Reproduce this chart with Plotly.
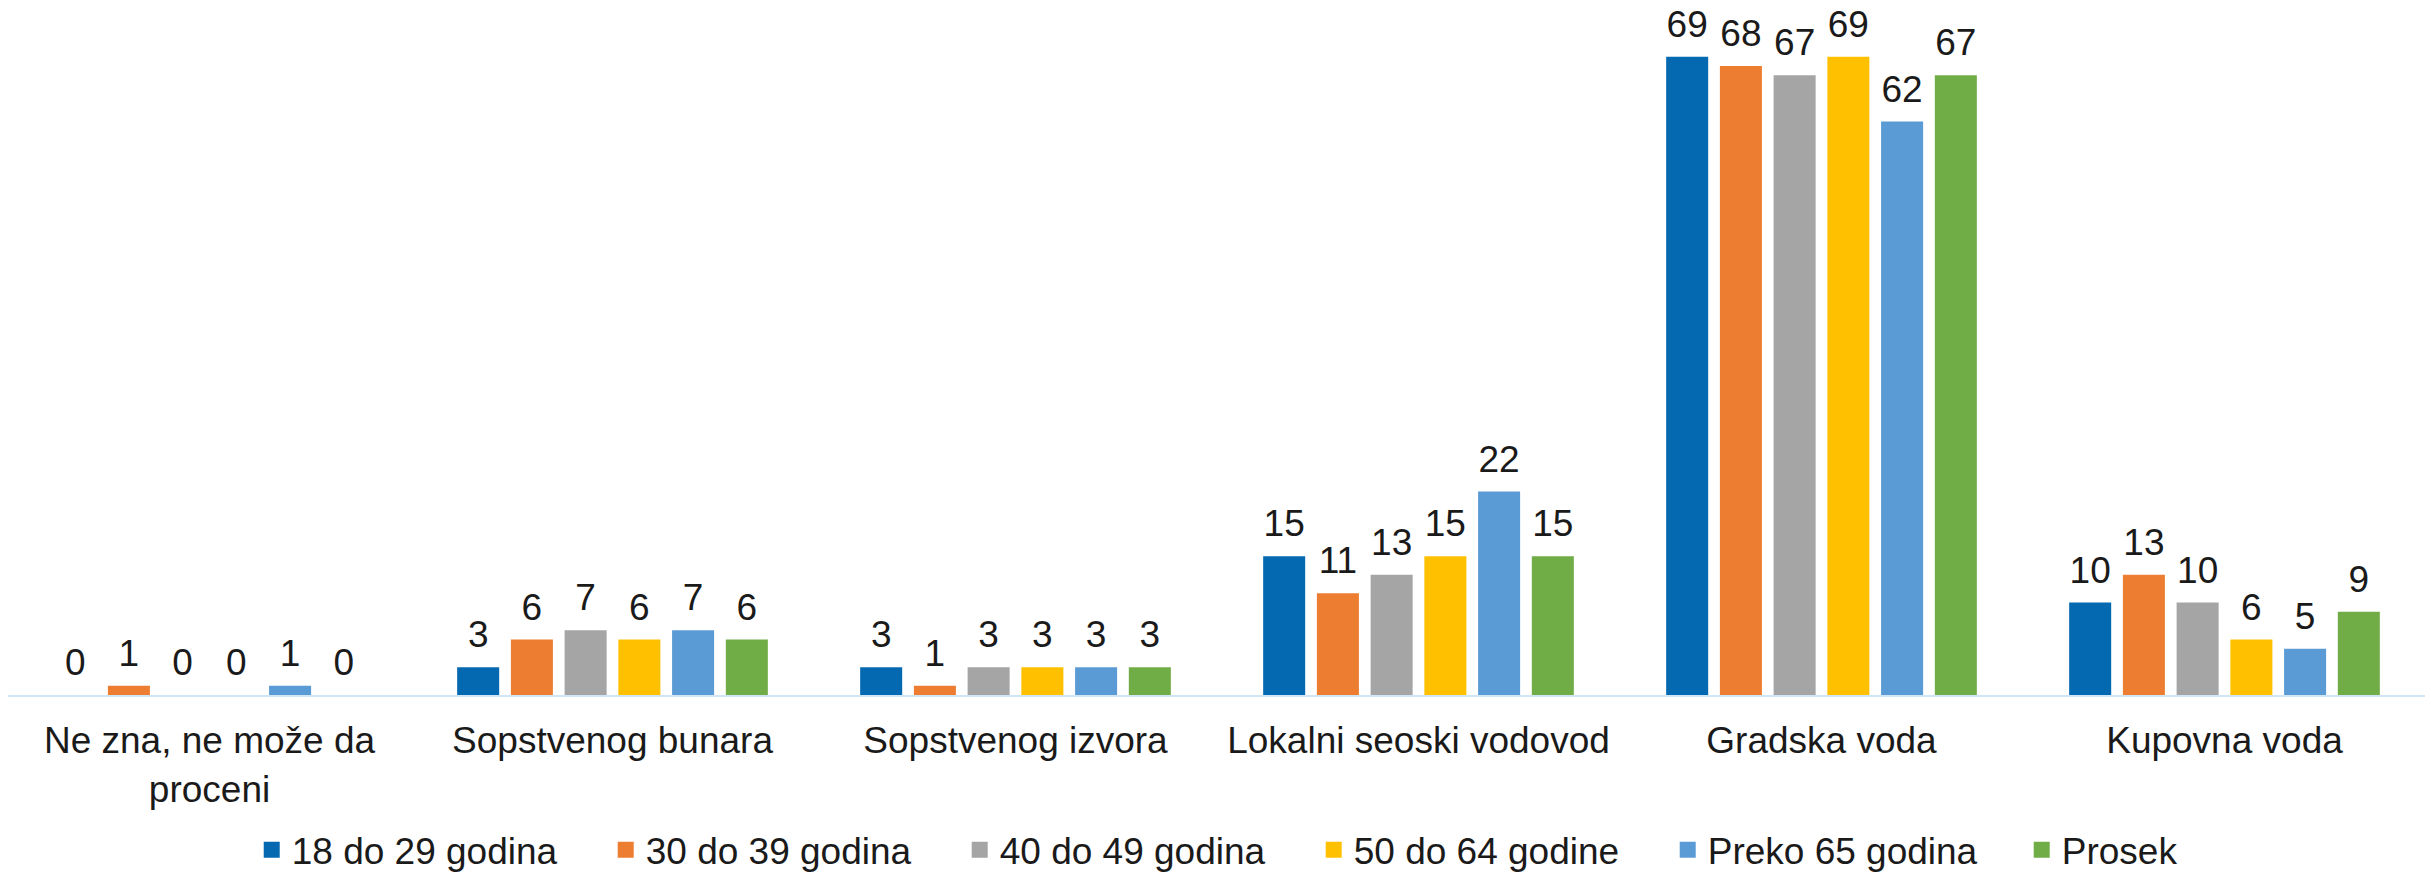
import plotly.graph_objects as go

categories = ["Ne zna, ne može da<br>proceni", "Sopstvenog bunara", "Sopstvenog izvora",
              "Lokalni seoski vodovod", "Gradska voda", "Kupovna voda"]
series_names = ["18 do 29 godina", "30 do 39 godina", "40 do 49 godina",
                "50 do 64 godine", "Preko 65 godina", "Prosek"]
v_18_29 = [0, 3, 3, 15, 69, 10]
v_30_39 = [1, 6, 1, 11, 68, 13]
v_40_49 = [0, 7, 3, 13, 67, 10]
v_50_64 = [0, 6, 3, 15, 69, 6]
v_65plus = [1, 7, 3, 22, 62, 5]
v_prosek = [0, 6, 3, 15, 67, 9]
series_values = [v_18_29, v_30_39, v_40_49, v_50_64, v_65plus, v_prosek]
colors = ["#0569B1", "#ED7D31", "#A5A5A5", "#FFC000", "#5B9BD5", "#70AD47"]

FONT = "Arial, Liberation Sans, sans-serif"
TXT = "#1a1a1a"
FS = 37
LABEL_PAD = 0.97  # gap (in axis units) between bar top and its value label

fig = go.Figure()
for i, (name, vals, col) in enumerate(zip(series_names, series_values, colors)):
    fig.add_trace(go.Bar(
        x=categories, y=vals, name=name, offsetgroup=str(i),
        marker=dict(color=col, line=dict(width=0)),
        showlegend=False, hoverinfo="skip", cliponaxis=False,
    ))
    # invisible spacer carrying the value label above the bar
    fig.add_trace(go.Bar(
        x=categories, y=[LABEL_PAD] * len(vals), base=vals, offsetgroup=str(i),
        marker=dict(color="rgba(0,0,0,0)", line=dict(width=0)),
        text=[str(v) for v in vals], textposition="outside",
        textfont=dict(family=FONT, size=FS, color=TXT),
        constraintext="none", cliponaxis=False,
        showlegend=False, hoverinfo="skip",
    ))
    # legend entry
    fig.add_trace(go.Scatter(
        x=[None], y=[None], mode="markers", name=name,
        marker=dict(symbol="square", size=16, color=col),
    ))

# the page body adds an 8px margin, so the figure is 8px smaller than the window
fig.update_layout(
    width=2425, height=864,
    margin=dict(l=0, r=7, t=21, b=177, autoexpand=False),
    paper_bgcolor="white", plot_bgcolor="white",
    barmode="group", bargap=0.2, bargroupgap=0.218,
    font=dict(family=FONT, size=FS, color=TXT),
    showlegend=True,
    legend=dict(orientation="h", x=0.540, xanchor="center", y=-0.233, yanchor="middle",
                font=dict(family=FONT, size=FS, color=TXT),
                itemsizing="trace", entrywidth=309, traceorder="normal"),
    xaxis=dict(showline=True, linecolor="#D0E5F6", linewidth=2, ticks="",
               showgrid=False, zeroline=False, automargin=False,
               ticklabelstandoff=12,
               tickfont=dict(family=FONT, size=FS, color=TXT)),
    yaxis=dict(range=[0, 72], visible=False, showgrid=False, zeroline=False,
               automargin=False),
)

fig.write_html("out.html")
